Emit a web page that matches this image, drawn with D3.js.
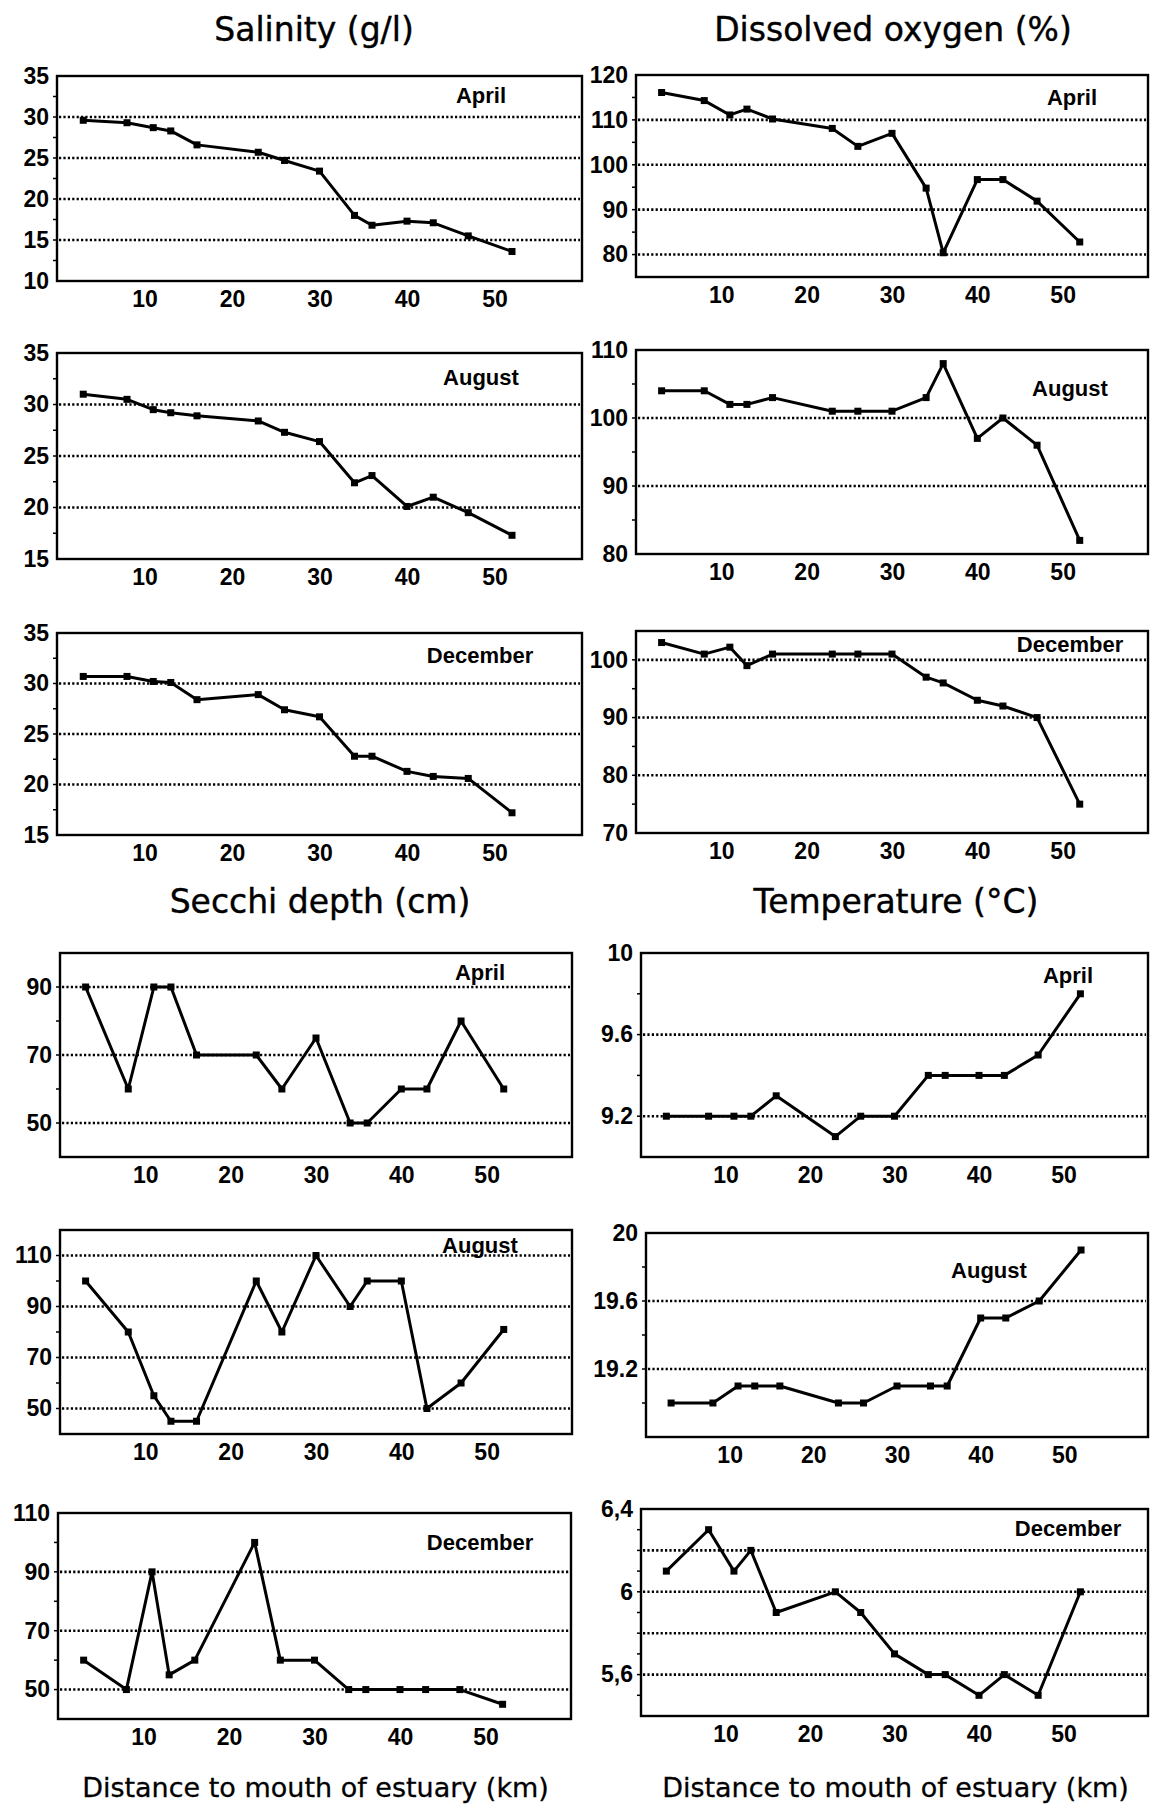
<!DOCTYPE html>
<html><head><meta charset="utf-8">
<script src="https://cdn.jsdelivr.net/npm/d3@7"></script>
<style>body{margin:0;background:#fff} svg{display:block}</style>
</head><body>
<svg id="c" width="1150" height="1808"></svg>
<script>
// ---------- data ----------
const stations = [3, 8, 11, 13, 16, 23, 26, 30, 34, 36, 40, 43, 47, 52];
const xTicks = [10, 20, 30, 40, 50];
const months = ["April", "August", "December"];
const titles = ["Salinity (g/l)", "Dissolved oxygen (%)", "Secchi depth (cm)", "Temperature (°C)"];
const xAxisTitle = "Distance to mouth of estuary (km)";

const salinityApril    = [29.6, 29.3, 28.7, 28.3, 26.6, 25.7, 24.7, 23.4, 18.0, 16.8, 17.3, 17.1, 15.5, 13.6];
const salinityAugust   = [31.0, 30.5, 29.5, 29.2, 28.9, 28.4, 27.3, 26.4, 22.4, 23.1, 20.1, 21.0, 19.5, 17.3];
const salinityDecember = [30.7, 30.7, 30.2, 30.1, 28.4, 28.9, 27.4, 26.7, 22.8, 22.8, 21.3, 20.8, 20.6, 17.2];

const oxygenApril    = [116.1, 114.3, 111.1, 112.4, 110.2, 108.1, 104.1, 107.0, 94.8, 80.4, 96.7, 96.7, 91.9, 82.8];
const oxygenAugust   = [104, 104, 102, 102, 103, 101, 101, 101, 103, 108, 97, 100, 96, 82];
const oxygenDecember = [103, 101, 102.2, 99, 101, 101, 101, 101, 97, 96, 93, 92, 90, 75];

const secchiApril    = [90, 60, 90, 90, 70, 70, 60, 75, 50, 50, 60, 60, 80, 60];
const secchiAugust   = [100, 80, 55, 45, 45, 100, 80, 110, 90, 100, 100, 50, 60, 81];
const secchiDecember = [60, 50, 90, 55, 60, 100, 60, 60, 50, 50, 50, 50, 50, 45];

const temperatureApril    = [9.2, 9.2, 9.2, 9.2, 9.3, 9.1, 9.2, 9.2, 9.4, 9.4, 9.4, 9.4, 9.5, 9.8];
const temperatureAugust   = [19.0, 19.0, 19.1, 19.1, 19.1, 19.0, 19.0, 19.1, 19.1, 19.1, 19.5, 19.5, 19.6, 19.9];
const temperatureDecember = [6.1, 6.3, 6.1, 6.2, 5.9, 6.0, 5.9, 5.7, 5.6, 5.6, 5.5, 5.6, 5.5, 6.0];

const salinityTicks = [35, 30, 25, 20, 15, 10];
const salinityTickLabels = ["35", "30", "25", "20", "15", "10"];
const oxygenAprilTicks = [120, 110, 100, 90, 80];
const oxygenAugustTicks = [110, 100, 90, 80];
const oxygenDecemberTicks = [100, 90, 80, 70];
const secchiAprilTicks = [90, 70, 50];
const secchiAugustTicks = [110, 90, 70, 50];
const secchiDecemberTicks = [110, 90, 70, 50];
const temperatureAprilTicks = [10, 9.6, 9.2];
const temperatureAprilTickLabels = ["10", "9.6", "9.2"];
const temperatureAugustTicks = [20, 19.6, 19.2];
const temperatureAugustTickLabels = ["20", "19.6", "19.2"];
const temperatureDecemberTicks = [6.4, 6.0, 5.6];
const temperatureDecemberTickLabels = ["6,4", "6", "5,6"];

// ---------- layout ----------
const panels = [
  {v: salinityApril, m: 0, box: [57, 582, 76, 281], dom: [10, 35], t: salinityTicks, tl: salinityTickLabels, g: [30, 25, 20, 15], minor: 2.5, lab: [481, 95]},
  {v: salinityAugust, m: 1, box: [57, 582, 353, 559], dom: [15, 35], t: [35, 30, 25, 20, 15], g: [30, 25, 20], minor: 2.5, lab: [481, 377]},
  {v: salinityDecember, m: 2, box: [57, 582, 633, 835], dom: [15, 35], t: [35, 30, 25, 20, 15], g: [30, 25, 20], minor: 2.5, lab: [480, 655]},
  {v: oxygenApril, m: 0, box: [636, 1148, 75, 277], dom: [75, 120], t: oxygenAprilTicks, g: [110, 100, 90, 80], minor: 5, lab: [1072, 97]},
  {v: oxygenAugust, m: 1, box: [636, 1148, 350, 554], dom: [80, 110], t: oxygenAugustTicks, g: [100, 90], minor: 5, lab: [1070, 388]},
  {v: oxygenDecember, m: 2, box: [636, 1148, 631, 833], dom: [70, 105], t: oxygenDecemberTicks, g: [100, 90, 80], minor: 5, lab: [1070, 644]},
  {v: secchiApril, m: 0, box: [60, 572, 953, 1157], dom: [40, 100], t: secchiAprilTicks, g: [90, 70, 50], minor: 10, lab: [480, 972]},
  {v: secchiAugust, m: 1, box: [60, 572, 1230, 1434], dom: [40, 120], t: secchiAugustTicks, g: [110, 90, 70, 50], minor: 10, lab: [480, 1245]},
  {v: secchiDecember, m: 2, box: [58, 571, 1513, 1719], dom: [40, 110], t: secchiDecemberTicks, g: [90, 70, 50], minor: 10, lab: [480, 1542], xaxis: true},
  {v: temperatureApril, m: 0, box: [641, 1148, 953, 1157], dom: [9.0, 10.0], t: temperatureAprilTicks, tl: temperatureAprilTickLabels, g: [9.6, 9.2], minor: 0.2, lab: [1068, 975]},
  {v: temperatureAugust, m: 1, box: [646, 1148, 1233, 1437], dom: [18.8, 20.0], t: temperatureAugustTicks, tl: temperatureAugustTickLabels, g: [19.6, 19.2], minor: 0.2, lab: [989, 1270]},
  {v: temperatureDecember, m: 2, box: [641, 1148, 1509, 1716], dom: [5.4, 6.4], t: temperatureDecemberTicks, tl: temperatureDecemberTickLabels, g: [6.2, 6.0, 5.8, 5.6], minor: 0.1, lab: [1068, 1528], xaxis: true}
];

const svg = d3.select("#c");
const FONT = "'DejaVu Sans', sans-serif";
const LFONT = "'Liberation Sans', Arial, sans-serif";

// column titles
const titlePos = [[314, 41], [893, 41], [320, 913], [896, 913]];
svg.selectAll("text.title").data(titles).join("text")
  .attr("class", "title")
  .attr("x", (d, i) => titlePos[i][0]).attr("y", (d, i) => titlePos[i][1])
  .attr("text-anchor", "middle").attr("font-family", FONT).attr("font-size", 33)
  .attr("fill", "#000").attr("stroke", "#000").attr("stroke-width", 0.4).text(d => d);

panels.forEach(p => {
  const [x0, x1, y0, y1] = p.box;
  const x = d3.scaleLinear().domain([0, 60]).range([x0, x1]);
  const y = d3.scaleLinear().domain(p.dom).range([y1, y0]);
  const g = svg.append("g");

  // grid lines (dotted)
  g.selectAll("line.grid").data(p.g).join("line")
    .attr("x1", x0 + 2).attr("x2", x1 - 2)
    .attr("y1", d => y(d)).attr("y2", d => y(d))
    .attr("stroke", "#000").attr("stroke-width", 2.6)
    .attr("stroke-dasharray", "2.2,2.2");

  // minor ticks on left edge
  const n = Math.round((p.dom[1] - p.dom[0]) / p.minor);
  const minorVals = d3.range(1, n).map(i => p.dom[0] + i * p.minor);
  g.selectAll("line.mt").data(minorVals).join("line")
    .attr("x1", x0 - 4).attr("x2", x0)
    .attr("y1", d => y(d)).attr("y2", d => y(d))
    .attr("stroke", "#000").attr("stroke-width", 1.5);

  // y-axis labels
  const yAxis = d3.axisLeft(y).tickValues(p.t).tickSize(0).tickPadding(8)
    .tickFormat((d, i) => p.tl ? p.tl[i] : String(d));
  const ya = g.append("g").attr("transform", `translate(${x0},0)`).call(yAxis);
  ya.select(".domain").remove();
  ya.selectAll("text").attr("font-family", LFONT).attr("font-size", 23)
    .attr("font-weight", "bold").attr("fill", "#000");

  // x-axis labels
  const xAxis = d3.axisBottom(x).tickValues(xTicks).tickSize(0).tickPadding(10).tickFormat(d3.format("d"));
  const xa = g.append("g").attr("transform", `translate(0,${y1})`).call(xAxis);
  xa.select(".domain").remove();
  xa.selectAll("text").attr("font-family", LFONT).attr("font-size", 23)
    .attr("font-weight", "bold").attr("fill", "#000");

  // frame
  g.append("rect").attr("x", x0).attr("y", y0).attr("width", x1 - x0).attr("height", y1 - y0)
    .attr("fill", "none").attr("stroke", "#000").attr("stroke-width", 2.4);

  // data line
  const pts = stations.map((s, i) => [s, p.v[i]]);
  g.append("path").datum(pts)
    .attr("d", d3.line().x(d => x(d[0])).y(d => y(d[1])))
    .attr("fill", "none").attr("stroke", "#000").attr("stroke-width", 3)
    .attr("stroke-linejoin", "round");
  g.selectAll("rect.pt").data(pts).join("rect")
    .attr("x", d => x(d[0]) - 3.5).attr("y", d => y(d[1]) - 3.5)
    .attr("width", 7).attr("height", 7).attr("fill", "#000");

  // month label
  g.append("text").attr("x", p.lab[0]).attr("y", p.lab[1])
    .attr("text-anchor", "middle").attr("dominant-baseline", "central")
    .attr("font-family", LFONT).attr("font-size", 22).attr("font-weight", "bold")
    .attr("fill", "#000").text(months[p.m]);

  if (p.xaxis) {
    g.append("text").attr("x", (x0 + x1) / 2 + 1).attr("y", 1797)
      .attr("text-anchor", "middle").attr("font-family", FONT).attr("font-size", 27)
      .attr("fill", "#000").attr("stroke", "#000").attr("stroke-width", 0.3).text(xAxisTitle);
  }
});
</script>
</body></html>
